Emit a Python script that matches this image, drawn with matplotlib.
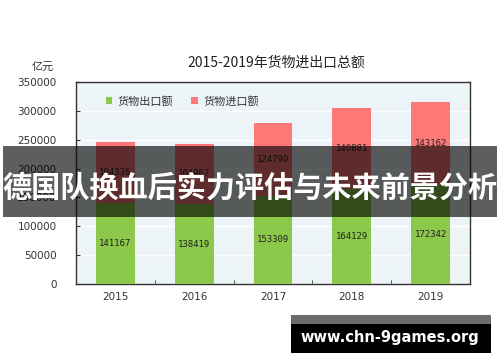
import matplotlib
matplotlib.use('Agg')
import matplotlib.pyplot as plt
from matplotlib.patches import Rectangle
import numpy as np

plt.rcParams['font.family'] = ['Noto Sans CJK SC', 'DejaVu Sans']

# 数据
years = ['2015', '2016', '2017', '2018', '2019']
exports = [141167, 138419, 153309, 164129, 172342]
imports = [104336, 104967, 124790, 140881, 143162]
yticks = [0, 50000, 100000, 150000, 200000, 250000, 300000, 350000]

green = '#8cc94a'
red = '#ff7878'

fig = plt.figure(figsize=(5, 3.62), dpi=100)
ax = fig.add_axes([0.152, 0.2155, 0.788, 0.558])
ax.set_facecolor('#edf4f8')

x = np.arange(len(years))
w = 0.49
ax.bar(x, exports, w, color=green, zorder=3, label='货物出口额')
ax.bar(x, imports, w, bottom=exports, color=red, zorder=3, label='货物进口额')

# 数值标签
for i in range(len(years)):
    ax.text(x[i], exports[i] / 2, str(exports[i]), ha='center', va='center',
            fontsize=6.5, family='DejaVu Sans Mono', color='#222', zorder=4)
    ax.text(x[i], exports[i] + imports[i] / 2, str(imports[i]), ha='center', va='center',
            fontsize=6.5, family='DejaVu Sans Mono', color='#222', zorder=4)

ax.set_xlim(-0.5, len(years) - 0.5)
ax.set_ylim(0, 350000)
ax.set_yticks(yticks)
ax.set_yticklabels([str(v) for v in yticks], fontsize=7.5, color='#333', family='DejaVu Sans')
ax.set_xticks(x)
ax.set_xticklabels(years, fontsize=7.5, color='#333', family='DejaVu Sans')
ax.set_xticks(x[:-1] + 0.5, minor=True)
ax.tick_params(axis='x', which='major', length=0, pad=6)
ax.tick_params(axis='x', which='minor', direction='in', length=3, color='#333')
ax.tick_params(axis='y', direction='in', length=3, color='#333', pad=14)
ax.yaxis.grid(True, color='white', linewidth=1, zorder=1)
for s in ax.spines.values():
    s.set_color('#333')
    s.set_linewidth(1)

ax.legend(loc='upper left', bbox_to_anchor=(0.05, 0.98), ncol=2, frameon=False,
          fontsize=8, handlelength=0.6, handleheight=0.6, handletextpad=0.5,
          columnspacing=1.6, labelcolor='#333')

fig.text(0.552, 0.826, '2015-2019年货物进出口总额', ha='center', va='center',
         fontsize=10, color='#222')
fig.text(0.086, 0.815, '亿元', ha='center', va='center', fontsize=8, color='#333')

# 横幅
fig.patches.append(Rectangle((0.006, 0.400), 0.988, 0.197, transform=fig.transFigure,
                             facecolor='black', alpha=0.63, edgecolor='none', zorder=10))
fig.text(0.5, 0.483, '德国队换血后实力评估与未来前景分析', ha='center', va='center',
         fontsize=21, fontweight='bold', color='white', zorder=11)

# 水印
fig.patches.append(Rectangle((0.582, 0.105), 0.4, 0.025, transform=fig.transFigure,
                             facecolor='#6a6a6a', edgecolor='none', zorder=10))
fig.patches.append(Rectangle((0.582, 0.025), 0.4, 0.080, transform=fig.transFigure,
                             facecolor='black', edgecolor='none', zorder=10))
fig.text(0.779, 0.069, 'www.chn-9games.org', ha='center', va='center',
         fontsize=10.5, fontweight='bold', color='white', family='DejaVu Sans', zorder=11)

fig.savefig('out.png', dpi=100)
